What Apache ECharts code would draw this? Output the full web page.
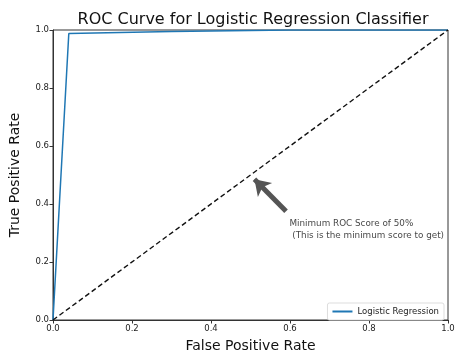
<!DOCTYPE html>
<html>
<head>
<meta charset="utf-8">
<script src="https://cdn.jsdelivr.net/npm/echarts@6/dist/echarts.min.js"></script>
<style>
	html, body {margin: 0; padding: 0; background: #fff;}
	#chart {width: 458px; height: 358px;}
</style>
</head>
<body>
<div id="chart"></div>
<script>
// ROC curve points
const rocFpr = [0, 0.04, 0.3, 0.6, 1];
const rocTpr = [0, 0.988, 0.995, 1, 1];
// chance line
const chanceFpr = [0, 1];
const chanceTpr = [0, 1];
// annotation
const arrowFrom = [0.59, 0.375];
const arrowTo = [0.51, 0.485];
const noteAt = [0.6, 0.352];
const noteLines = ['Minimum ROC Score of 50%', ' (This is the minimum score to get)'];
const ticks = [0, 0.2, 0.4, 0.6, 0.8, 1];

const font = 'DejaVu Sans';
const zip = (xs, ys) => xs.map((x, i) => [x, ys[i]]);

const chart = echarts.init(document.getElementById('chart'));

const axisCommon = {
	type: 'value',
	min: ticks[0],
	max: ticks[ticks.length - 1],
	interval: 0.2,
	nameLocation: 'middle',
	nameTextStyle: {fontFamily: font, fontSize: 14, color: '#111'},
	axisLine: {show: true, lineStyle: {color: '#333', width: 1}},
	axisTick: {show: true, inside: false, length: 3.5, lineStyle: {color: '#333'}},
	axisLabel: {
		fontFamily: font, fontSize: 8.5, color: '#222', margin: 4,
		formatter: v => v.toFixed(1)
	},
	splitLine: {show: false}
};

chart.setOption({
	animation: false,
	backgroundColor: '#fff',
	title: {
		text: 'ROC Curve for Logistic Regression Classifier',
		left: 248,
		textAlign: 'center',
		top: 7,
		textStyle: {fontFamily: font, fontSize: 16, fontWeight: 'normal', color: '#111'}
	},
	grid: {
		left: 52, right: 10, top: 30, bottom: 33,
		show: true, borderColor: '#333', borderWidth: 1, backgroundColor: 'transparent'
	},
	legend: {
		data: ['Logistic Regression'],
		right: 14, bottom: 38,
		orient: 'vertical',
		itemWidth: 20, itemHeight: 2,
		itemGap: 6,
		padding: [4, 5, 4, 5],
		borderColor: '#ddd', borderWidth: 1, borderRadius: 2,
		backgroundColor: '#fff',
		icon: 'rect',
		textStyle: {fontFamily: font, fontSize: 8.5, color: '#222'}
	},
	xAxis: Object.assign({}, axisCommon, {name: 'False Positive Rate', nameGap: 19}),
	yAxis: Object.assign({}, axisCommon, {name: 'True Positive Rate', nameGap: 31}),
	series: [
		{
			name: 'Logistic Regression',
			type: 'line',
			data: zip(rocFpr, rocTpr),
			showSymbol: false,
			symbol: 'none',
			lineStyle: {color: '#1f77b4', width: 1.5},
			itemStyle: {color: '#1f77b4'},
			z: 3
		},
		{
			name: 'chance',
			type: 'line',
			data: zip(chanceFpr, chanceTpr),
			symbol: 'none',
			lineStyle: {color: '#111', width: 1.4, type: [5, 3]},
			silent: true,
			markLine: {
				silent: true,
				symbol: ['none', 'arrow'],
				symbolSize: 15,
				symbolOffset: 0,
				label: {show: false},
				itemStyle: {color: '#555', borderColor: '#222', borderWidth: 1},
				lineStyle: {color: '#555', width: 5, type: 'solid'},
				emphasis: {disabled: true},
				data: [[{coord: arrowFrom}, {coord: arrowTo}]]
			}
		},
		{
			name: 'note',
			type: 'scatter',
			data: [noteAt],
			symbolSize: 1,
			itemStyle: {color: 'transparent'},
			silent: true,
			label: {
				show: true,
				position: [0, 0],
				align: 'left',
				verticalAlign: 'top',
				fontFamily: font,
				fontSize: 8.8,
				lineHeight: 12,
				color: '#111',
				formatter: () => noteLines.join('\n')
			}
		}
	]
});
</script>
</body>
</html>
